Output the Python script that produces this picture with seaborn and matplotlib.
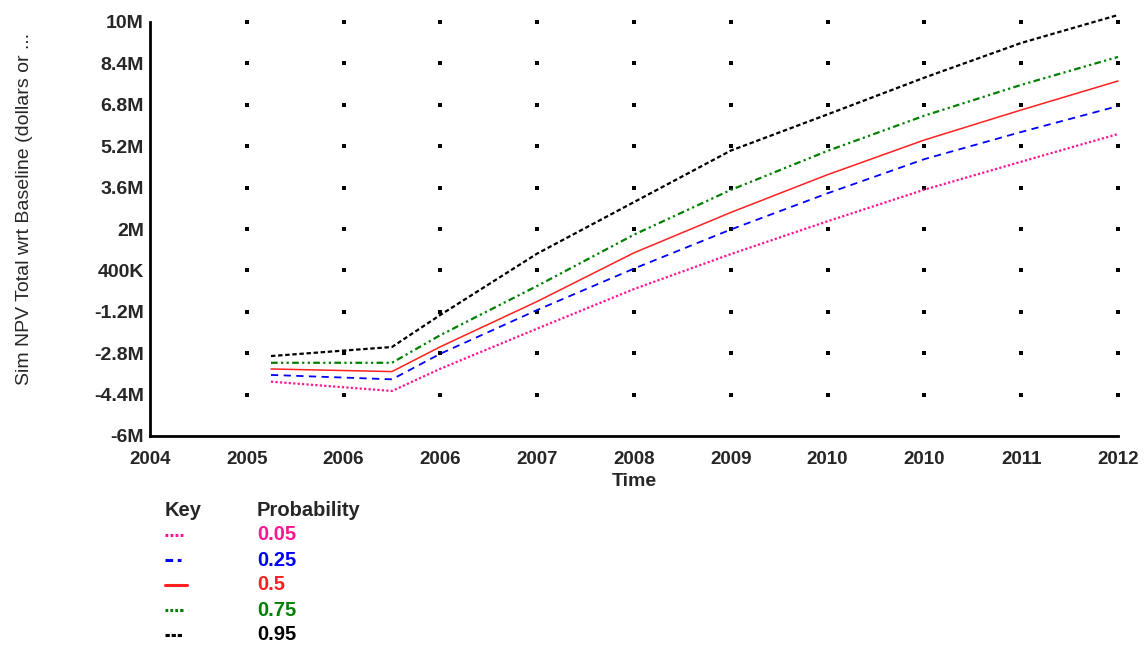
import numpy as np
import pandas as pd
import matplotlib
matplotlib.use("Agg")
import matplotlib.pyplot as plt
from matplotlib.lines import Line2D
import seaborn as sns

# ---- data (millions) ----
time = [2005.0, 2006.0, 2006.4, 2007.2, 2008.0, 2008.8, 2009.6, 2010.4, 2011.2, 2012.0]
p05 = [-3.90, -4.26, -3.40, -1.85, -0.32, 1.03, 2.30, 3.52, 4.60, 5.67]
p25 = [-3.64, -3.81, -2.82, -1.13, 0.47, 1.98, 3.38, 4.70, 5.75, 6.75]
p50 = [-3.41, -3.51, -2.55, -0.80, 1.08, 2.64, 4.10, 5.44, 6.60, 7.72]
p75 = [-3.17, -3.17, -2.10, -0.20, 1.78, 3.51, 5.02, 6.38, 7.57, 8.65]
p95 = [-2.91, -2.56, -1.32, 1.05, 3.04, 5.03, 6.43, 7.85, 9.19, 10.27]
probabilities = ["0.05", "0.25", "0.5", "0.75", "0.95"]
x_ticks = [2004 + 0.8 * i for i in range(11)]
y_ticks = [-6 + 1.6 * i for i in range(11)]

series = [p05, p25, p50, p75, p95]
colors = ["#ff1493", "#0000ff", "#ff2020", "#008000", "#000000"]
styles = [(0, (1, 1)), (0, (4, 3)), "-", (0, (3, 1.5, 1, 1.5, 1, 1.5)), (0, (2, 1.2))]
widths = [1.6, 1.3, 1.1, 1.6, 1.6]
key_styles = [(0, (0.9, 0.75)), (0, (2.5, 1.5)), "-", (0, (0.9, 0.7, 0.9, 0.7, 0.9, 0.7, 3.2, 1.0)), (0, (1.4, 0.6))]

df = pd.DataFrame({"Time": time * len(series),
                   "Value": [v * 1e6 for s in series for v in s],
                   "Probability": [p for p in probabilities for _ in time]})

sns.set_style("white")
plt.rcParams["font.family"] = ["Liberation Sans", "DejaVu Sans"]

fig = plt.figure(figsize=(11.44, 6.46), dpi=100)
ax = fig.add_axes([150 / 1144, 1 - 436 / 646, (1118 - 150) / 1144, (436 - 22) / 646])

for p, c, ls, lw in zip(probabilities, colors, styles, widths):
    sub = df[df["Probability"] == p]
    sns.lineplot(data=sub, x="Time", y="Value", color=c, linestyle=ls, linewidth=lw, ax=ax, zorder=3)
for ln in ax.get_lines():
    ln.set_clip_on(False)

# dotted grid at tick intersections
gx, gy = np.meshgrid(x_ticks[1:], [v * 1e6 for v in y_ticks[1:]])
ax.plot(gx.ravel(), gy.ravel(), linestyle="none", marker="s", markersize=2.4,
        markeredgewidth=0, color="black", zorder=1, clip_on=False)

ax.set_xlim(x_ticks[0], x_ticks[-1])
ax.set_ylim(y_ticks[0] * 1e6, y_ticks[-1] * 1e6)
ax.set_xticks(x_ticks)
ax.set_yticks([v * 1e6 for v in y_ticks])
ax.set_xticklabels([f"{round(v):d}" for v in x_ticks])


def fmt(v):
    m = v / 1e6
    if abs(m) < 1:
        return f"{round(m * 1000):d}K"
    s = f"{m:.1f}"
    if s.endswith(".0"):
        s = s[:-2]
    return s + "M"


ax.set_yticklabels([fmt(v * 1e6) for v in y_ticks])
for lab in ax.get_xticklabels():
    lab.set_fontweight("bold")
    lab.set_fontsize(13.5)
for lab in ax.get_yticklabels():
    lab.set_fontweight("bold")
    lab.set_fontsize(14)
ax.tick_params(axis="x", direction="inout", length=5, width=1.5, pad=8, color="black")
ax.tick_params(axis="y", direction="inout", length=5, width=1.5, pad=2, color="black")
for s in ["top", "right"]:
    ax.spines[s].set_visible(False)
for s in ["left", "bottom"]:
    ax.spines[s].set_color("black")
    ax.spines[s].set_linewidth(2)

ax.set_xlabel("Time", fontsize=14, fontweight="bold", labelpad=4)
ax.set_ylabel("Sim NPV Total wrt Baseline (dollars or ...", fontsize=14)
ax.yaxis.set_label_coords(-0.121, 0.548)

# ---- custom key ----
W, H = 1144, 646
fig.text(165 / W, 1 - 511 / H, "Key", fontsize=14.5, fontweight="bold", va="center", ha="left")
fig.text(257 / W, 1 - 511 / H, "Probability", fontsize=14.5, fontweight="bold", va="center", ha="left")
row_y = [535, 560, 585, 610, 635]
key_len = [183, 181, 187, 183, 182]
for p, c, ls, lw, yy, xe in zip(probabilities, colors, key_styles, widths, row_y, key_len):
    fig.add_artist(Line2D([165 / W, xe / W], [1 - yy / H, 1 - yy / H], color=c,
                          linestyle=ls, linewidth=2.2, transform=fig.transFigure))
    fig.text(257 / W, 1 - yy / H, p, fontsize=14.5, fontweight="bold", color=c, va="center", ha="left")

fig.savefig("out.png", dpi=100)
